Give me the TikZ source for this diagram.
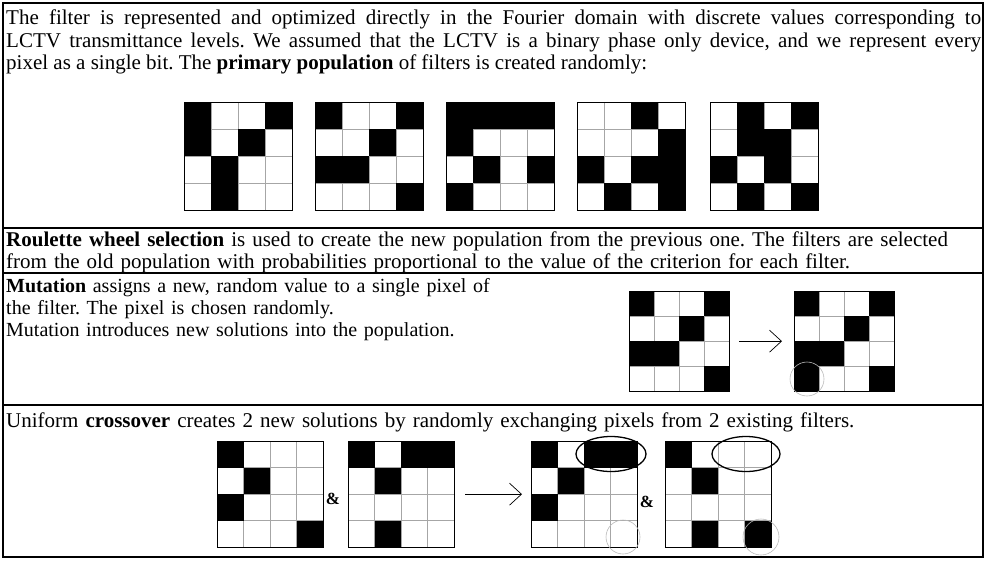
\documentclass[tikz,border=0pt]{standalone}
\usepackage{fontspec}
\setmainfont{Liberation Serif}
\usepackage{tikz}
\usetikzlibrary{calc,shapes.geometric,positioning,arrows.meta}
\frenchspacing

% #1 name, #2 top-left corner, #3 cell size, #4 black cells (row/col)
\newcommand{\pixgrid}[4]{%
  \node[gridbox, minimum width=4*#3, minimum height=4*#3] (#1) at #2 {};
  \foreach \k in {1,2,3} {
    \draw[gridline] ($(#1.north west)+(\k*#3,0)$) -- ++(0,4*#3);
    \draw[gridline] ($(#1.north west)+(0,\k*#3)$) -- ++(4*#3,0);
  }
  \foreach \r/\c in {#4}
    \fill ($(#1.north west)+(\c*#3,\r*#3)$) rectangle ++(#3,#3);
  \draw[gridframe] (#1.north west) rectangle (#1.south east);}

\begin{document}
\begin{tikzpicture}[x=1pt, y=-1pt,
  boxline/.style={draw=black, line width=1.2pt},
  para/.style={anchor=north west, inner sep=0pt, text width=975pt,
    font=\fontsize{21}{22.5}\selectfont},
  gridbox/.style={inner sep=0pt, anchor=north west},
  gridline/.style={draw=gray!70, line width=0.5pt},
  gridframe/.style={draw=black, line width=0.9pt},
  arr/.style={-{Straight Barb[length=12pt,width=22pt]}, line width=0.7pt},
  amp/.style={font=\fontsize{17}{17}\selectfont\bfseries, inner sep=1pt},
  pick/.style={draw=black, line width=1.3pt, ellipse, inner sep=0pt},
  hint/.style={draw=gray!55, line width=0.6pt, circle, inner sep=0pt}]
  \useasboundingbox (0,0) rectangle (987,560);
  % frames
  \draw[boxline] (3,3) rectangle (983,557);
  \draw[boxline] (3,228) -- (983,228);
  \draw[boxline] (3,273) -- (983,273);
  \draw[boxline] (3,405) -- (983,405);
  % primary population
  \node[para, align=justify] (intro) at (6,10)
    {The filter is represented and optimized directly in the Fourier domain with discrete values corresponding to\linebreak
     LCTV transmittance levels. We assumed that the LCTV is a binary phase only device, and we represent every\linebreak
     pixel as a single bit. The \textbf{primary population} of filters is created randomly:};
  \pixgrid{popA}{(184,102)}{27}{0/0,0/3,1/0,1/2,2/1,3/1}
  \pixgrid{popB}{(315,102)}{27}{0/0,0/3,1/2,2/0,2/1,3/3}
  \pixgrid{popC}{(446,102)}{27}{0/0,0/1,0/2,0/3,1/0,2/1,2/3,3/0}
  \pixgrid{popD}{(577,102)}{27}{0/2,1/3,2/0,2/2,2/3,3/1,3/3}
  \pixgrid{popE}{(710,102)}{27}{0/1,0/3,1/1,1/2,2/0,2/2,3/1,3/3}
  % selection
  \node[para, align=left, font=\fontsize{21}{22}\selectfont] (select) at (6,231.5)
    {\textbf{Roulette wheel selection} is used to create the new population from the previous one. The filters are selected\\
     from the old population with probabilities proportional to the value of the criterion for each filter.};
  % mutation
  \node[para, align=left, font=\fontsize{20}{22.2}\selectfont] (mutate) at (6,278)
    {\textbf{Mutation} assigns a new, random value to a single pixel of\\
     the filter. The pixel is chosen randomly.\\
     Mutation introduces new solutions into the population.};
  \pixgrid{mutA}{(629,291)}{25}{0/0,0/3,1/2,2/0,2/1,3/3}
  \pixgrid{mutB}{(794,291)}{25}{0/0,0/3,1/2,2/0,2/1,3/0,3/3}
  \draw[arr, shorten <=10pt, shorten >=12pt] (mutA) -- (mutB);
  \node[hint, minimum size=34pt] (flipB) at (807,379) {};
  % crossover
  \node[para, align=left] (cross) at (6,413)
    {Uniform \textbf{crossover} creates 2 new solutions by randomly exchanging pixels from 2 existing filters.};
  \pixgrid{parA}{(217,441)}{26.5}{0/0,1/1,2/0,3/3}
  \pixgrid{parB}{(348,441)}{26.5}{0/0,0/2,0/3,1/1,3/1}
  \pixgrid{kidA}{(531,441)}{26.5}{0/0,0/2,0/3,1/1,2/0}
  \pixgrid{kidB}{(665,441)}{26.5}{0/0,1/1,3/1,3/3}
  \node[amp] (andA) at (333,499) {\&};
  \node[amp] (andB) at (647,502) {\&};
  \draw[arr, shorten <=11pt, shorten >=9pt] (parB) -- (kidA);
  \node[pick, minimum width=70pt, minimum height=35pt] (swapA) at (611,454) {};
  \node[pick, minimum width=68pt, minimum height=35pt] (swapB) at (746,454) {};
  \node[hint, minimum size=34pt] (keepA) at (623,537) {};
  \node[hint, minimum size=36pt] (keepB) at (761,537) {};
\end{tikzpicture}
\end{document}
